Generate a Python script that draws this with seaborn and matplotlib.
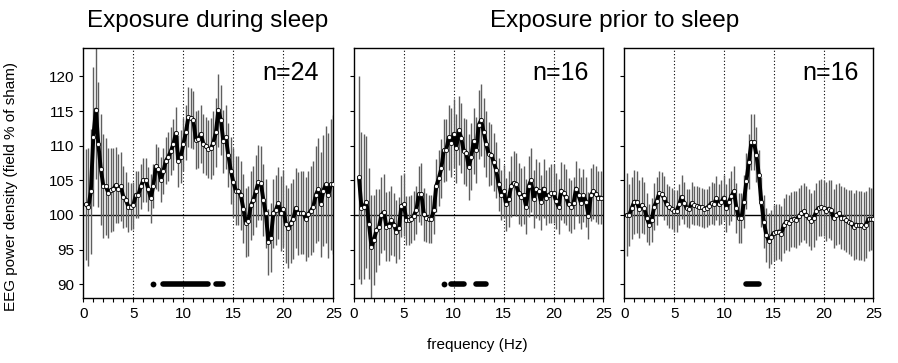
import numpy as np
import pandas as pd
import seaborn as sns
import matplotlib.pyplot as plt
from matplotlib.ticker import MultipleLocator

# frequency bins (Hz), 0.25 Hz resolution
freq = np.arange(1, 101) * 0.25

# Exposure during sleep (n=24)
during_mean = [
    101.5, 101.1, 103.4, 111.3, 115.2, 110.2, 106.6, 104.2, 104.1, 103.2,
    103.6, 103.7, 104.3, 103.8, 104.1, 102.6, 102.2, 101.2, 101.2, 101.4,
    102.9, 102.9, 104.1, 105.0, 105.0, 103.7, 102.4, 104.2, 107.0, 106.6,
    105.1, 106.3, 107.8, 108.4, 109.2, 110.2, 111.8, 107.8, 108.4, 110.2,
    111.9, 114.1, 114.0, 113.7, 110.8, 110.9, 111.7, 110.3, 109.9, 109.5,
    109.6, 110.4, 111.9, 115.1, 113.7, 110.6, 111.2, 108.6, 106.4, 104.7,
    103.5, 103.5, 102.8, 100.9, 98.9, 99.1, 101.4, 102.1, 103.4, 104.7,
    104.6, 102.2, 100.2, 96.1, 96.7, 100.2, 100.7, 101.7, 100.2, 100.9,
    98.7, 98.1, 98.8, 99.4, 101.0, 100.2, 100.3, 100.3, 99.4, 100.1,
    100.6, 101.2, 102.9, 103.7, 101.5, 103.5, 104.4, 102.8, 104.4, 104.4,
]
during_err = [
    8.0, 8.5, 9.0, 10.0, 10.0, 9.0, 8.0, 7.5, 7.0, 6.5,
    6.0, 6.0, 5.5, 5.0, 5.0, 4.5, 4.0, 3.6, 3.4, 3.4,
    3.4, 3.4, 3.3, 3.2, 3.2, 3.2, 3.5, 3.2, 3.2, 3.2,
    3.2, 3.3, 3.4, 3.5, 3.5, 3.7, 3.8, 3.8, 3.8, 3.8,
    4.0, 4.3, 4.3, 4.2, 4.2, 4.2, 4.2, 4.2, 4.2, 4.2,
    4.4, 4.6, 5.0, 5.3, 5.0, 4.6, 4.6, 4.6, 4.8, 5.0,
    5.0, 5.0, 5.0, 5.0, 5.0, 5.0, 5.0, 5.0, 5.2, 5.4,
    5.4, 5.2, 5.0, 4.8, 5.0, 5.0, 5.0, 5.2, 5.4, 5.6,
    5.6, 5.8, 5.8, 5.8, 5.8, 6.0, 6.0, 6.0, 6.0, 6.2,
    6.4, 6.6, 7.0, 7.4, 7.6, 8.0, 8.4, 9.0, 9.5, 10.0,
]

# Exposure prior to sleep, first group (n=16)
prior1_mean = [
    np.nan, 105.4, 101.0, 101.2, 101.9, 98.7, 95.4, 96.4, 97.8, 98.2,
    100.0, 100.4, 98.3, 98.4, 99.2, 98.6, 97.6, 98.1, 101.3, 101.5,
    99.2, 99.2, 99.4, 99.9, 100.7, 103.0, 103.0, 100.1, 99.6, 99.4,
    99.4, 100.7, 104.2, 105.3, 106.7, 109.3, 109.4, 111.2, 110.4, 111.7,
    109.6, 112.2, 111.1, 109.2, 109.0, 106.9, 108.4, 110.7, 109.4, 113.0,
    113.7, 111.9, 110.2, 108.8, 108.7, 107.6, 106.5, 104.4, 102.9, 103.4,
    101.5, 102.3, 104.1, 104.6, 104.4, 103.1, 102.6, 102.9, 101.2, 104.1,
    105.0, 102.3, 103.8, 103.4, 101.8, 103.8, 102.5, 102.9, 103.1, 103.1,
    102.0, 101.2, 103.5, 103.1, 102.6, 101.5, 101.2, 101.7, 103.8, 102.8,
    101.7, 102.8, 101.9, 99.9, 102.9, 103.4, 103.0, 102.5, 102.5, np.nan,
]
prior1_err = [
    np.nan, 14.7, 11.0, 10.5, 9.5, 8.0, 7.5, 6.5, 6.0, 5.5,
    5.5, 5.5, 5.0, 5.0, 5.0, 4.5, 4.5, 4.5, 4.5, 4.5,
    3.5, 3.5, 3.5, 3.5, 3.5, 4.0, 4.5, 3.8, 3.5, 3.5,
    3.5, 3.5, 3.8, 4.0, 4.3, 4.5, 4.5, 4.7, 5.0, 5.0,
    5.0, 5.0, 5.0, 4.8, 4.8, 4.8, 4.8, 4.8, 4.8, 5.0,
    5.2, 5.0, 4.8, 4.6, 4.4, 4.2, 4.0, 3.8, 3.6, 3.8,
    3.8, 4.0, 4.4, 4.6, 4.6, 4.4, 4.2, 4.2, 4.0, 4.4,
    4.6, 4.2, 4.2, 4.2, 4.0, 4.2, 4.0, 4.0, 4.2, 4.2,
    4.0, 4.0, 4.2, 4.2, 4.0, 3.8, 3.8, 3.8, 4.0, 4.0,
    3.8, 3.8, 3.6, 3.4, 3.8, 4.0, 4.0, 3.8, 3.8, np.nan,
]

# Exposure prior to sleep, second group (n=16)
prior2_mean = [
    100.0, 100.0, 101.0, 101.9, 101.9, 100.8, 101.4, 101.0, 99.6, 98.6,
    99.3, 101.2, 102.0, 103.1, 103.0, 102.4, 101.5, 101.1, 100.9, 100.6,
    100.6, 101.5, 102.6, 101.7, 101.0, 100.9, 101.7, 101.4, 101.3, 101.2,
    101.1, 100.9, 101.0, 101.3, 101.7, 101.6, 102.4, 101.5, 101.9, 102.5,
    101.0, 101.9, 102.7, 103.4, 101.0, 99.5, 99.5, 101.9, 104.9, 107.7,
    110.5, 110.5, 108.7, 105.8, 101.9, 99.0, 97.1, 96.3, 96.8, 97.4,
    97.5, 97.6, 97.3, 98.5, 99.0, 98.8, 99.3, 99.4, 99.3, 99.8,
    100.2, 100.5, 100.0, 99.6, 99.1, 99.5, 100.5, 101.0, 101.1, 101.0,
    100.5, 100.9, 100.7, 99.5, 100.0, 100.2, 99.6, 99.5, 99.2, 99.0,
    98.8, 98.3, 98.6, 98.5, 98.5, 98.3, 98.6, 99.4, 99.4, 99.4,
]
prior2_err = [
    6.0, 4.5, 4.5, 4.6, 4.5, 4.2, 4.0, 3.8, 3.5, 3.0,
    3.2, 3.4, 3.4, 3.2, 3.2, 3.2, 3.0, 3.0, 3.0, 3.0,
    3.0, 3.0, 3.2, 3.0, 2.8, 2.8, 3.0, 2.8, 2.8, 2.8,
    2.8, 2.8, 2.8, 2.8, 3.0, 3.0, 3.2, 3.0, 3.2, 3.2,
    3.4, 3.4, 3.6, 3.6, 3.6, 3.6, 3.6, 3.8, 4.0, 4.0,
    4.0, 4.0, 4.0, 3.6, 3.6, 3.8, 3.9, 3.9, 3.9, 4.0,
    4.0, 4.0, 4.0, 4.0, 4.0, 4.0, 4.0, 4.0, 4.1, 4.1,
    4.1, 4.1, 4.1, 4.1, 4.1, 4.1, 4.1, 4.1, 4.1, 4.1,
    4.2, 4.2, 4.3, 4.3, 4.4, 4.4, 4.5, 4.5, 4.6, 4.6,
    4.8, 4.8, 5.0, 5.0, 5.0, 5.0, 4.8, 4.6, 4.5, 4.5,
]

# runs of significant bins (start Hz, end Hz)
during_sig = [(7.0, 7.0), (8.0, 12.5), (13.25, 14.0)]
prior1_sig = [(9.0, 9.0), (9.75, 11.0), (12.25, 13.25)]
prior2_sig = [(12.25, 13.5)]

panel_labels = ["n=24", "n=16", "n=16"]

sns.set_style("ticks")
plt.rcParams["font.family"] = ["Liberation Sans", "DejaVu Sans"]
plt.rcParams.update({
    "text.color": "black",
    "axes.labelcolor": "black",
    "xtick.color": "black",
    "ytick.color": "black",
    "axes.edgecolor": "black",
})

fig = plt.figure(figsize=(8.98, 3.63), dpi=100)
axes = [
    fig.add_axes([0.0928, 0.1791, 0.2784, 0.6887]),
    fig.add_axes([0.3942, 0.1791, 0.2778, 0.6887]),
    fig.add_axes([0.6952, 0.1791, 0.2775, 0.6887]),
]

panels = [
    (during_mean, during_err, during_sig),
    (prior1_mean, prior1_err, prior1_sig),
    (prior2_mean, prior2_err, prior2_sig),
]

for i, (ax, (mean, err, sig)) in enumerate(zip(axes, panels)):
    df = pd.DataFrame({"freq": freq, "power": mean, "err": err}).dropna()

    # reference lines
    for v in [5, 10, 15, 20]:
        ax.axvline(v, color="black", linestyle=(0, (1, 2)), linewidth=0.8, zorder=1)
    ax.axhline(100, color="black", linewidth=1.0, zorder=1)

    # error bars
    ax.vlines(df["freq"], df["power"] - df["err"], df["power"] + df["err"],
              color="#5f5f5f", linewidth=1.0, zorder=2)

    # mean spectrum
    sns.lineplot(data=df, x="freq", y="power", ax=ax, color="black",
                 linewidth=2.8, marker="o", markersize=3.0,
                 markerfacecolor="white", markeredgecolor="black",
                 markeredgewidth=0.6, zorder=3)

    # significance markers: single bins as dots, runs as thick bars
    for start, end in sig:
        if start == end:
            ax.plot([start], [90], "o", color="black", markersize=4.2,
                    markeredgewidth=0, zorder=3)
        else:
            ax.plot([start, end], [90, 90], color="black", linewidth=4.0,
                    solid_capstyle="round", zorder=3)

    ax.text(0.94, 0.90, panel_labels[i], transform=ax.transAxes,
            ha="right", va="center", fontsize=18, zorder=0)

    ax.set_xlim(0, 25)
    ax.set_ylim(88, 124.1)
    ax.xaxis.set_major_locator(MultipleLocator(5))
    ax.xaxis.set_minor_locator(MultipleLocator(1))
    ax.set_yticks([90, 95, 100, 105, 110, 115, 120])
    ax.tick_params(axis="both", which="both", direction="out", length=3,
                   width=0.8, labelsize=11, color="black", labelcolor="black")
    ax.set_xlabel("")
    ax.set_ylabel("")
    for s in ax.spines.values():
        s.set_visible(True)
        s.set_color("black")
        s.set_linewidth(1.0)
    if i > 0:
        ax.set_yticklabels([])

fig.text(0.012, 0.485, "EEG power density (field % of sham)", rotation=90,
         ha="center", va="center", fontsize=11)
fig.text(0.2317, 0.942, "Exposure during sleep", ha="center", va="center", fontsize=17.5)
fig.text(0.684, 0.942, "Exposure prior to sleep", ha="center", va="center", fontsize=17.5)
fig.text(0.532, 0.05, "frequency (Hz)", ha="center", va="center", fontsize=11)

fig.savefig("out.png", dpi=100)
